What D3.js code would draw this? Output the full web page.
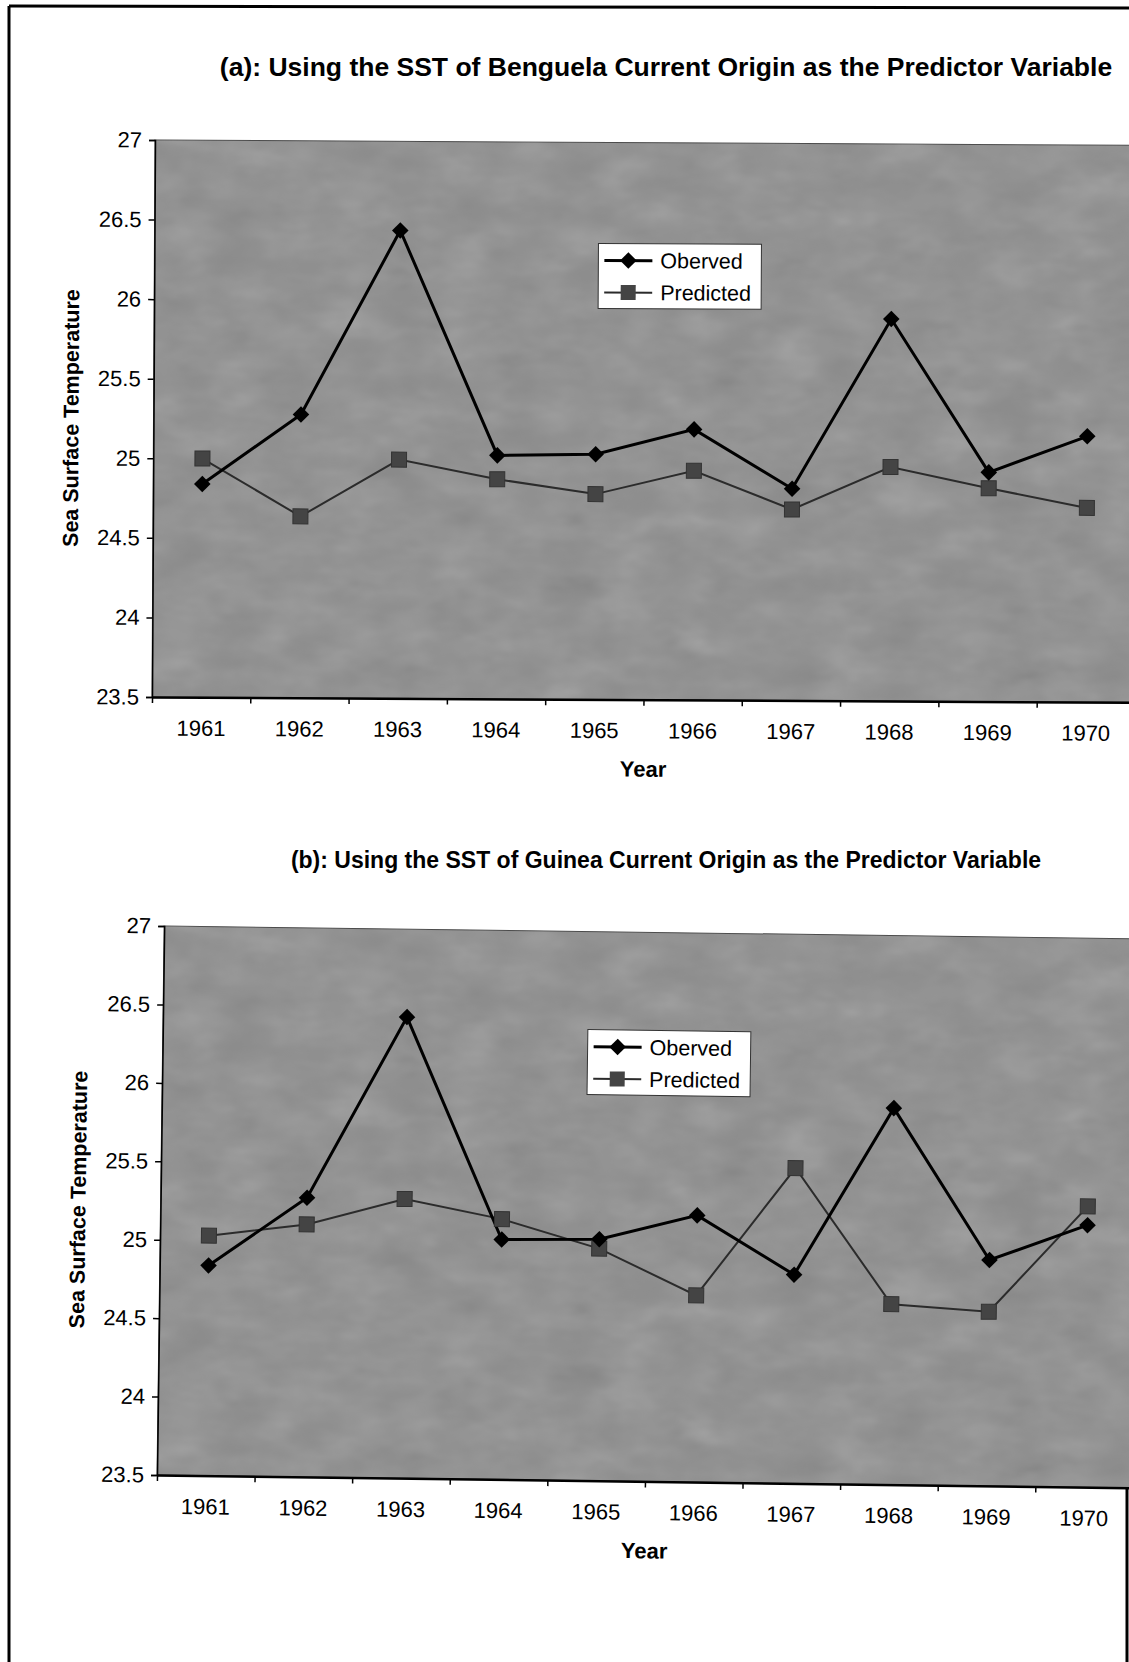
<!DOCTYPE html>
<html>
<head>
	<meta charset="utf-8">
	<title>SST observed vs predicted</title>
	<script src="https://d3js.org/d3.v7.min.js"></script>
	<style>
		html, body {
			margin: 0;
			background: white;
		}
		svg text {
			font-family: "Liberation Sans", Arial, sans-serif;
			fill: black;
		}
	</style>
</head>
<body>
	<svg id="svg"></svg>
	<script>
		// values
		const years = ["1961", "1962", "1963", "1964", "1965", "1966", "1967", "1968", "1969", "1970"];
		const yTicks = [23.5, 24, 24.5, 25, 25.5, 26, 26.5, 27];
		const observed = [24.84, 25.28, 26.44, 25.03, 25.04, 25.20, 24.83, 25.90, 24.94, 25.17];
		const predictedBenguela = [25.00, 24.64, 25.00, 24.88, 24.79, 24.94, 24.70, 24.97, 24.84, 24.72];
		const predictedGuinea = [25.03, 25.11, 25.28, 25.16, 24.98, 24.69, 25.51, 24.65, 24.61, 25.29];
		const seriesNames = ["Oberved", "Predicted"];
		const titleA = "(a): Using the SST of Benguela Current Origin as the Predictor Variable";
		const titleB = "(b):  Using the SST of Guinea Current Origin as the Predictor Variable";

		const W = 1129, H = 1662;

		const svg = d3.select("#svg")
		.attr("width", W)
		.attr("height", H);

		// mottled texture for the plot area, like the scanned Excel fill
		const defs = svg.append("defs");
		const grain = defs.append("filter")
		.attr("id", "grain")
		.attr("x", 0).attr("y", 0).attr("width", "100%").attr("height", "100%");
		grain.append("feTurbulence")
		.attr("type", "fractalNoise")
		.attr("baseFrequency", "0.018 0.035")
		.attr("numOctaves", 3)
		.attr("seed", 7);
		grain.append("feColorMatrix")
		.attr("type", "saturate")
		.attr("values", 0);

		// page frame of the scan
		const frame = svg.append("g")
		.attr("stroke", "black")
		.attr("stroke-width", 3);
		frame.append("line").attr("x1", 9).attr("y1", 6).attr("x2", 9).attr("y2", H);
		frame.append("line").attr("x1", 9).attr("y1", 6).attr("x2", W).attr("y2", 8);
		frame.append("line").attr("x1", 1127).attr("y1", 1420).attr("x2", 1127).attr("y2", H);

		const panels = [
			{ title: titleA, predicted: predictedBenguela, left: 152, top: 140, width: 983, height: 557,
			  tilt: 0.31, titleX: 666, titleY: 76, titleSize: 26.5, legendX: 444, legendY: 101 },
			{ title: titleB, predicted: predictedGuinea, left: 157, top: 926, width: 976, height: 549,
			  tilt: 0.75, titleX: 666, titleY: 868, titleSize: 23, legendX: 425, legendY: 98 }
		];

		panels.forEach(p => {
			svg.append("text")
			.attr("x", p.titleX)
			.attr("y", p.titleY)
			.attr("text-anchor", "middle")
			.attr("font-weight", "bold")
			.attr("font-size", p.titleSize)
			.text(p.title);

			const g = svg.append("g")
			.attr("transform", `translate(${p.left}, ${p.top}) rotate(${p.tilt}, 0, ${p.height})`);

			const x = d3.scaleBand()
			.domain(years)
			.range([0, p.width]);

			const xEdges = d3.scaleLinear()
			.domain([0, years.length])
			.range([0, p.width]);

			const y = d3.scaleLinear()
			.domain([23.5, 27])
			.range([p.height, 0]);

			g.append("rect")
			.attr("width", p.width)
			.attr("height", p.height)
			.attr("fill", "#8c8c8c")
			.attr("stroke", "#444")
			.attr("stroke-width", 1);

			g.append("rect")
			.attr("width", p.width)
			.attr("height", p.height)
			.attr("filter", "url(#grain)")
			.attr("opacity", 0.3);

			// axes
			const yAxis = g.append("g")
			.call(d3.axisLeft(y).tickValues(yTicks).tickSize(6).tickPadding(7).tickFormat(d => String(d)));

			const xAxis = g.append("g")
			.attr("transform", `translate(0, ${p.height})`)
			.call(d3.axisBottom(x).tickSize(0).tickPadding(23));

			const xTicks = g.append("g")
			.attr("transform", `translate(0, ${p.height})`)
			.call(d3.axisBottom(xEdges).tickValues(d3.range(0, years.length + 1)).tickSize(6).tickFormat(""));

			[yAxis, xAxis, xTicks].forEach(a => {
				a.selectAll("text").attr("font-size", 22).attr("font-family", null);
				a.selectAll("line").attr("stroke", "black").attr("stroke-width", 1.5);
				a.select(".domain").attr("stroke", "black").attr("stroke-width", 1.5);
			});
			xAxis.select(".domain").attr("stroke-width", 2.5);
			xTicks.select(".domain").remove();

			g.append("text")
			.attr("x", p.width / 2)
			.attr("y", p.height + 77)
			.attr("text-anchor", "middle")
			.attr("font-weight", "bold")
			.attr("font-size", 22)
			.text("Year");

			g.append("text")
			.attr("transform", `translate(-75, ${p.height / 2}) rotate(-90)`)
			.attr("text-anchor", "middle")
			.attr("font-weight", "bold")
			.attr("font-size", 21.5)
			.text("Sea Surface Temperature");

			const line = d3.line()
			.x((d, i) => x(years[i]) + x.bandwidth() / 2)
			.y(d => y(d));

			// predicted: dark grey line with squares
			g.append("path")
			.attr("fill", "none")
			.attr("stroke", "#2b2b2b")
			.attr("stroke-width", 2)
			.attr("d", line(p.predicted));

			// observed: black line with diamonds
			g.append("path")
			.attr("fill", "none")
			.attr("stroke", "black")
			.attr("stroke-width", 3)
			.attr("d", line(observed));

			g.append("g")
			.selectAll("rect")
			.data(p.predicted)
			.enter()
			.append("rect")
			.attr("x", (d, i) => x(years[i]) + x.bandwidth() / 2 - 7.5)
			.attr("y", d => y(d) - 7.5)
			.attr("width", 15)
			.attr("height", 15)
			.attr("fill", "#444")
			.attr("stroke", "#333")
			.attr("stroke-width", 1);

			g.append("g")
			.selectAll("path")
			.data(observed)
			.enter()
			.append("path")
			.attr("d", d3.symbol(d3.symbolDiamond2, 175))
			.attr("transform", (d, i) => `translate(${x(years[i]) + x.bandwidth() / 2}, ${y(d)})`)
			.attr("fill", "black");

			// legend
			const lg = g.append("g")
			.attr("transform", `translate(${p.legendX}, ${p.legendY})`);

			lg.append("rect")
			.attr("width", 163)
			.attr("height", 65)
			.attr("fill", "white")
			.attr("stroke", "#333")
			.attr("stroke-width", 1);

			seriesNames.forEach((name, i) => {
				const row = lg.append("g").attr("transform", `translate(0, ${17 + i * 32})`);
				row.append("line")
				.attr("x1", 6).attr("x2", 54)
				.attr("stroke", i === 0 ? "black" : "#2b2b2b")
				.attr("stroke-width", i === 0 ? 3 : 2);
				if (i === 0) {
					row.append("path")
					.attr("d", d3.symbol(d3.symbolDiamond2, 175))
					.attr("transform", "translate(30, 0)")
					.attr("fill", "black");
				} else {
					row.append("rect")
					.attr("x", 22.5).attr("y", -7.5)
					.attr("width", 15).attr("height", 15)
					.attr("fill", "#444");
				}
				row.append("text")
				.attr("x", 62)
				.attr("y", 7.5)
				.attr("font-size", 21.5)
				.text(name);
			});
		});
	</script>
</body>
</html>
